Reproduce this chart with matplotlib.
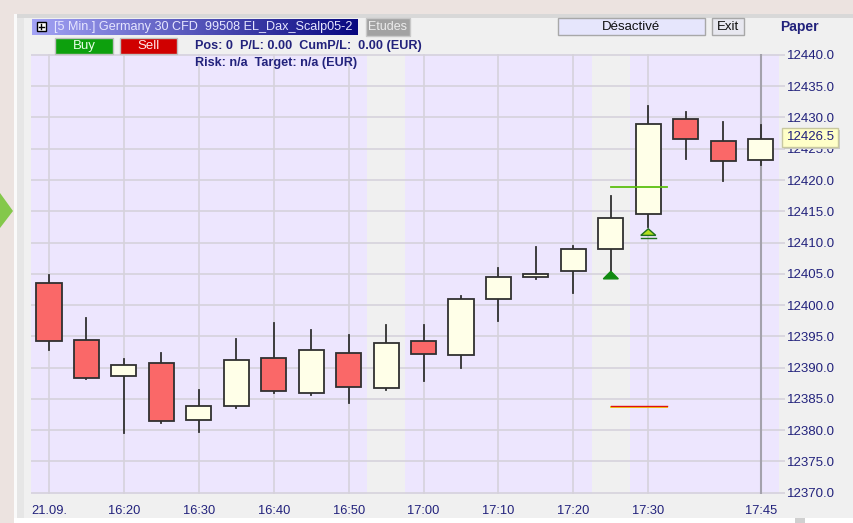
import numpy as np
import matplotlib.pyplot as plt
from matplotlib.patches import Rectangle, Polygon

OUTPUT_PATH = "out.png"

# 5 minute bars, 21.09. 16:10 - 17:45
TIMES = ["16:10", "16:15", "16:20", "16:25", "16:30", "16:35", "16:40", "16:45",
         "16:50", "16:55", "17:00", "17:05", "17:10", "17:15", "17:20", "17:25",
         "17:30", "17:35", "17:40", "17:45"]
OPENS = [12403.5, 12394.4, 12388.6, 12390.7, 12381.6, 12383.9, 12391.5, 12385.9,
         12392.4, 12386.7, 12394.3, 12392.0, 12400.9, 12404.5, 12405.5, 12409.0,
         12414.5, 12429.8, 12426.3, 12423.2]
HIGHS = [12404.8, 12398.0, 12391.4, 12392.3, 12386.4, 12394.6, 12397.1, 12396.1,
         12395.3, 12396.8, 12396.8, 12401.4, 12405.9, 12409.3, 12409.4, 12417.4,
         12431.8, 12430.8, 12429.3, 12428.8]
LOWS = [12392.9, 12388.2, 12379.5, 12381.2, 12379.7, 12383.6, 12386.0, 12385.7,
        12384.4, 12386.5, 12387.8, 12389.9, 12397.5, 12404.2, 12402.0, 12405.5,
        12412.5, 12423.3, 12419.8, 12422.4]
CLOSES = [12394.2, 12388.4, 12390.5, 12381.4, 12383.9, 12391.3, 12386.2, 12392.8,
          12386.9, 12394.0, 12392.2, 12400.9, 12404.5, 12404.9, 12409.0, 12414.0,
          12428.9, 12426.6, 12423.0, 12426.5]

# bars with grey background (signal bars)
SHADED_BARS = ["16:55", "17:25"]
# entry signals: (bar, price of triangle apex, kind)
SIGNALS = [("17:25", 12405.4, "dark"), ("17:30", 12412.2, "light")]
TARGET_LEVEL = 12418.9
STOP_LEVEL = 12383.9
LEVEL_START = "17:25"

X_LABELS = {"16:10": "21.09.", "16:20": "16:20", "16:30": "16:30", "16:40": "16:40",
            "16:50": "16:50", "17:00": "17:00", "17:10": "17:10", "17:20": "17:20",
            "17:30": "17:30", "17:45": "17:45"}
V_GRID = ["16:10", "16:20", "16:30", "16:40", "16:50", "17:00", "17:10", "17:20", "17:30"]
Y_TICKS = np.arange(12370, 12441, 5)
LAST_PRICE = 12426.5

NAVY = "#22227c"
FONT = "Liberation Sans"

W, H = 854, 523


def px_box(ax, x, y, w, h, face, edge="none", lw=1.0, z=2):
    ax.add_patch(Rectangle((x, y), w, h, facecolor=face, edgecolor=edge, linewidth=lw, zorder=z))


def px_text(ax, x, y, s, color, size=9.5, weight="normal", ha="left"):
    ax.text(x, y, s, ha=ha, va="center", fontsize=size, color=color,
            weight=weight, family=FONT, zorder=5)


def main():
    fig = plt.figure(figsize=(W / 100, H / 100), dpi=100)
    fig.patch.set_facecolor("#ece3e0")

    # window background
    bg = fig.add_axes([0, 0, 1, 1], zorder=0)
    bg.set_xlim(0, W)
    bg.set_ylim(H, 0)
    bg.axis("off")
    bg.add_patch(Polygon([(0, 193), (13, 211), (0, 228)], closed=True,
                         facecolor="#84c84a", edgecolor="none"))
    px_box(bg, 14, 14, W - 14, H - 14, "#f0f0f0", z=1)
    px_box(bg, 14, 14, W - 14, 4, "#d8d8d8", z=1)
    px_box(bg, 14, 14, 3, H - 14, "#fafafa", z=1)
    px_box(bg, 17, 18, 7, H - 18, "#e6e6e6", z=1)
    px_box(bg, 14, 518, W - 14, 5, "#ffffff", z=1)
    px_box(bg, 795, 518, 10, 5, "#d0d0d0", z=1)

    # price chart
    left, right, top, bottom = 31, 779, 54, 494
    ax = fig.add_axes([left / W, (H - bottom) / H, (right - left) / W, (bottom - top) / H], zorder=1)
    ax.set_facecolor("#ede6fe")
    n = len(TIMES)
    xs = np.arange(n)
    ax.set_xlim(-0.48, n - 0.51)
    ax.set_ylim(12369.8, 12440.15)

    for t in SHADED_BARS:
        i = TIMES.index(t)
        ax.axvspan(i - 0.5, i + 0.5, color="#f0f0f0", zorder=0.2, linewidth=0)

    for y in Y_TICKS:
        ax.axhline(y, color="#d6d2dc", linewidth=1.2, zorder=0.5)
    for t in V_GRID:
        ax.axvline(TIMES.index(t), color="#d6d2dc", linewidth=1.2, zorder=0.5)
    ax.axvline(n - 1, color="#a4a2ac", linewidth=1.5, zorder=1)

    body_w = 0.67
    for x, o, h, l, c in zip(xs, OPENS, HIGHS, LOWS, CLOSES):
        ax.plot([x, x], [l, h], color="#303030", linewidth=1.3, zorder=2)
        face = "#fa6868" if c < o else "#ffffe8"
        ax.add_patch(Rectangle((x - body_w / 2, min(o, c)), body_w, abs(c - o),
                               facecolor=face, edgecolor="#303030", linewidth=1.3, zorder=3))

    s = TIMES.index(LEVEL_START)
    ax.plot([s, s + 1.5], [TARGET_LEVEL, TARGET_LEVEL], color="#5cc010", linewidth=1.3, zorder=4)
    ax.plot([s, s + 1.5], [STOP_LEVEL - 0.22, STOP_LEVEL - 0.22], color="#f0e000", linewidth=1.3, zorder=4)
    ax.plot([s, s + 1.5], [STOP_LEVEL, STOP_LEVEL], color="#e01010", linewidth=1.0, zorder=4)

    for t, apex, kind in SIGNALS:
        i = TIMES.index(t)
        hgt = 1.2 if kind == "dark" else 1.05
        if kind == "dark":
            face, edge = "#108a10", "#108a10"
        else:
            face, edge = "#b4e020", "#207020"
            ax.plot([i - 0.2, i + 0.2], [apex - hgt - 0.35] * 2, color="#207020", linewidth=1.0, zorder=4)
        ax.add_patch(Polygon([(i - 0.2, apex - hgt), (i, apex), (i + 0.2, apex - hgt)],
                             closed=True, facecolor=face, edgecolor=edge, linewidth=1.0, zorder=4))

    ax.yaxis.tick_right()
    ax.set_yticks(Y_TICKS)
    ax.set_yticklabels([f"{v:.1f}" for v in Y_TICKS], family=FONT, fontsize=9.5, color=NAVY)
    ax.tick_params(axis="y", length=4, width=1.2, color="#d6d2dc", pad=2)
    ax.set_xticks([TIMES.index(t) for t in X_LABELS])
    ax.set_xticklabels(list(X_LABELS.values()), family=FONT, fontsize=9.3, color=NAVY)
    ax.tick_params(axis="x", length=0, pad=8)
    for sp in ax.spines.values():
        sp.set_visible(False)

    # header controls
    ov = fig.add_axes([0, 0, 1, 1], zorder=3)
    ov.set_xlim(0, W)
    ov.set_ylim(H, 0)
    ov.axis("off")
    ov.patch.set_alpha(0)

    grad = np.linspace(0, 1, 256)[None, :, None]
    c0 = np.array([0.64, 0.64, 0.96])
    c1 = np.array([0.03, 0.03, 0.50])
    ov.imshow(c0 + (c1 - c0) * grad, extent=(32, 358, 35, 19), aspect="auto", zorder=1)
    px_box(ov, 37, 22, 9, 9, "#ffffff", edge="#000000", lw=1.0)
    ov.plot([39, 44], [26.5, 26.5], color="#000000", linewidth=1.0, zorder=3)
    ov.plot([41.5, 41.5], [24, 29], color="#000000", linewidth=1.0, zorder=3)
    px_text(ov, 54, 27, "[5 Min.] Germany 30 CFD  99508 EL_Dax_Scalp05-2", "#e6e6ff", size=9.1)
    px_box(ov, 366, 18, 44, 18, "#a2a2a2", edge="#c8c8c8")
    px_text(ov, 388, 27, "Etudes", "#ececec", size=9, ha="center")

    px_box(ov, 55, 38, 58, 16, "#0da00d", edge="#c0c0c0")
    px_text(ov, 84, 46, "Buy", "#e8ffe8", ha="center")
    px_box(ov, 120, 38, 57, 16, "#d00000", edge="#c0c0c0")
    px_text(ov, 148.5, 46, "Sell", "#ffe8e8", ha="center")
    px_text(ov, 195, 46, "Pos: 0  P/L: 0.00  CumP/L:  0.00 (EUR)", NAVY, size=9.1, weight="bold")
    px_text(ov, 195, 63, "Risk: n/a  Target: n/a (EUR)", NAVY, size=9.1, weight="bold")

    px_box(ov, 558, 18, 147, 17, "#e6e6fc", edge="#a8a8a8")
    px_text(ov, 631, 27, "Désactivé", "#101010", ha="center")
    px_box(ov, 712, 18, 32, 17, "#e8e8f0", edge="#a8a8a8")
    px_text(ov, 728, 27, "Exit", "#101010", ha="center")
    px_text(ov, 780, 27, "Paper", NAVY, size=10, weight="bold")

    # last price tooltip
    px_box(ov, 784, 130, 56, 19, "#c8c8c8")
    px_box(ov, 782, 128, 56, 19, "#ffffc8", edge="#c8c8a0")
    px_text(ov, 787, 137.5, f"{LAST_PRICE:.1f}", NAVY)

    fig.savefig(OUTPUT_PATH, dpi=100)
    plt.close(fig)


if __name__ == "__main__":
    main()
